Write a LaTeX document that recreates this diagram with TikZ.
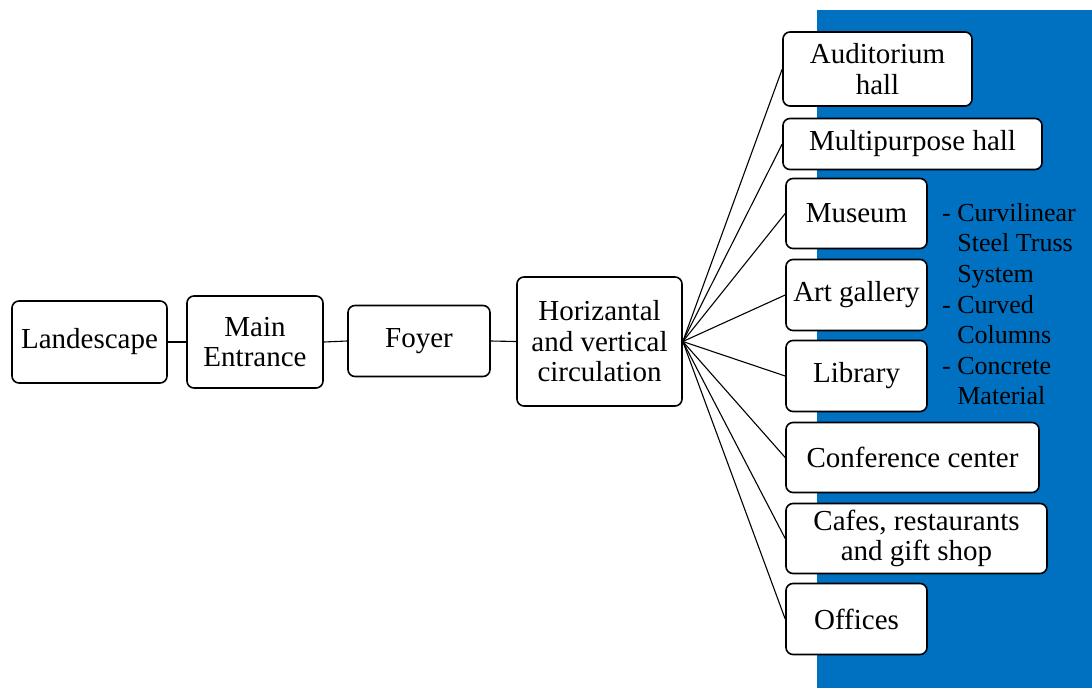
\documentclass[tikz,border=0pt]{standalone}
\usepackage{fontspec}
\setmainfont{Liberation Serif}
\begin{document}
\begin{tikzpicture}[x=1pt,y=-1pt,
  box/.style={draw=black,line width=1.6pt,rounded corners=7pt,fill=white,
    inner sep=0pt,align=center,font=\fontsize{29}{30.5}\selectfont},
  link/.style={draw=black,line width=1.1pt}]
\useasboundingbox (0,0) rectangle (1092,688);
% blue panel behind the right-hand column
\fill[fill={rgb,255:red,0;green,112;blue,192}] (817,10) rectangle (1092,688);

% main chain
\node[box,minimum width=155,minimum height=82] (land) at (89.5,342) {Landescape};
\node[box,minimum width=136,minimum height=92] (main) at (255,342) {Main\\Entrance};
\node[box,minimum width=142,minimum height=71] (foyer) at (419,341) {Foyer};
\node[box,minimum width=165,minimum height=129] (circ) at (599.5,341.5) {Horizantal\\and vertical\\circulation};

% spaces served by the circulation
\node[box,minimum width=189,minimum height=74] (aud) at (877.5,69) {Auditorium\\hall};
\node[box,minimum width=259,minimum height=51] (multi) at (912.5,144) {Multipurpose hall};
\node[box,minimum width=141,minimum height=70] (museum) at (856.5,213.5) {Museum};
\node[box,minimum width=141,minimum height=71] (art) at (856.5,295) {Art gallery};
\node[box,minimum width=141,minimum height=71] (lib) at (856.5,376) {Library};
\node[box,minimum width=253,minimum height=70] (conf) at (912.5,457.5) {Conference center};
\node[box,minimum width=261,minimum height=70] (cafe) at (916.5,538.5) {Cafes, restaurants\\and gift shop};
\node[box,minimum width=141,minimum height=71] (off) at (856.5,619) {Offices};

% structural notes
\node[anchor=north west,inner sep=0pt,align=left,
  font=\fontsize{26}{30.6}\selectfont] (notes) at (942,203)
  {- Curvilinear\\\hphantom{- }Steel Truss\\\hphantom{- }System\\- Curved\\\hphantom{- }Columns\\- Concrete\\\hphantom{- }Material};

% connectors
\draw[link] (land.east) -- (main.west);
\draw[link] (main.east) -- (foyer.west);
\draw[link] (foyer.east) -- (circ.west);
\foreach \t in {aud,multi,museum,art,lib,conf,cafe,off}
  \draw[link] (circ.east) -- (\t.west);
\end{tikzpicture}
\end{document}
